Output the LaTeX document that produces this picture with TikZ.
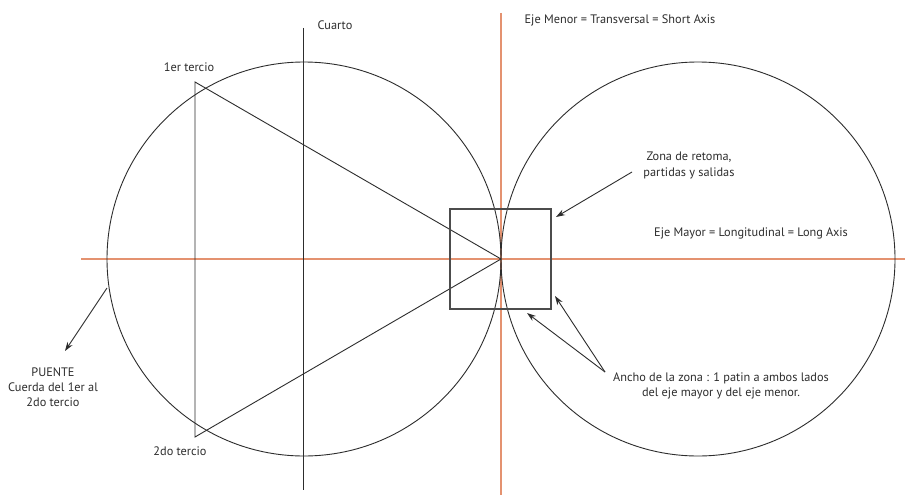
\documentclass[tikz,border=0pt]{standalone}
\usepackage{fontspec}
\setmainfont{PT Sans}
\usetikzlibrary{arrows.meta}
\definecolor{axisorange}{RGB}{228,146,112}
\definecolor{ink}{RGB}{45,45,45}
\begin{document}
\begin{tikzpicture}[x=1pt,y=-1pt,
  axis/.style={draw=axisorange,line width=1.5pt},
  thin/.style={draw=ink,line width=0.9pt},
  boxline/.style={draw=ink!85,line width=1.1pt},
  pointer/.style={draw=ink,line width=0.9pt,-{Stealth[length=9pt,width=6pt]}},
  lbl/.style={inner sep=0pt,font=\fontsize{12.3}{15.2}\selectfont,text=ink,align=center}]
\fill[white] (0,0) rectangle (905,495);
\useasboundingbox (0,0) rectangle (905,495);
% axes
\coordinate (vtop) at (501,13);
\coordinate (vbot) at (501,495);
\coordinate (hl) at (81,259);
\coordinate (hr) at (905,259);
\draw[axis] (vtop) -- (vbot);
\draw[axis] (hl) -- (hr);
% circles
\coordinate (cl) at (304,259);
\coordinate (cr) at (698,259);
\draw[thin] (cl) circle (197pt);
\draw[thin] (cr) circle (197pt);
% quarter line
\coordinate (qtop) at (303,28);
\coordinate (qbot) at (303,490);
\draw[thin] (qtop) -- (qbot);
% triangle
\coordinate (t1) at (195,82);
\coordinate (t2) at (195,437);
\coordinate (t3) at (501,259);
\draw[thin] (t1) -- (t2) -- (t3) -- cycle;
% zone box
\coordinate (b1) at (450,209);
\coordinate (b2) at (551,309);
\draw[boxline] (b1) rectangle (b2);
% labels
\node[lbl] (cuarto) at (335,25) {Cuarto};
\node[lbl] (primer) at (189,67) {1er tercio};
\node[lbl] (segundo) at (180,451) {2do tercio};
\node[lbl] (puente) at (53,387) {PUENTE\\Cuerda del 1er al\\2do tercio};
\node[lbl] (menor) at (620,20) {Eje Menor = Transversal = Short Axis};
\node[lbl] (mayor) at (751,233) {Eje Mayor = Longitudinal = Long Axis};
\node[lbl] (zona) at (689,165.5) {Zona de retoma,\\partidas y salidas};
\node[lbl] (ancho) at (721,386) {Ancho de la zona : 1 patin a ambos lados\\del eje mayor y del eje menor.};
% arrows
\coordinate (zs) at (632,172);
\coordinate (ze) at (556,217);
\draw[pointer] (zs) -- (ze);
\coordinate (as) at (605,372);
\coordinate (ae1) at (555,296);
\coordinate (ae2) at (527,313);
\draw[pointer] (as) -- (ae1);
\draw[pointer] (as) -- (ae2);
\coordinate (ps) at (107,288);
\coordinate (pe) at (65,351);
\draw[pointer] (ps) -- (pe);
\end{tikzpicture}
\end{document}
